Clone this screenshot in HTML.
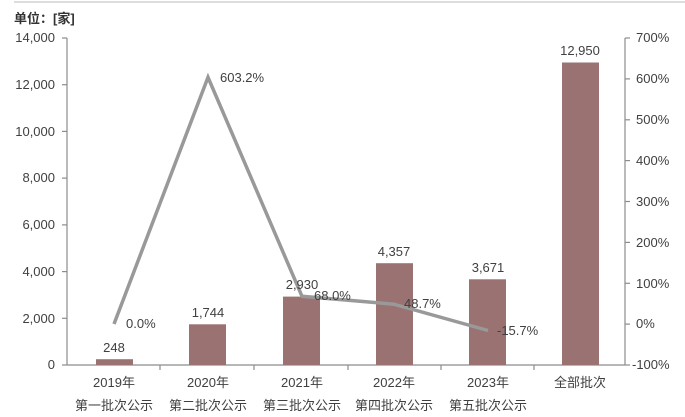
<!DOCTYPE html>
<html><head><meta charset="utf-8"><style>body{margin:0;background:#fff}svg{display:block}text{font-family:"Liberation Sans","Noto Sans CJK SC",sans-serif;fill:#404040;font-size:13px}</style></head><body>
<svg width="685" height="417" viewBox="0 0 685 417">
<line x1="14" y1="2" x2="685" y2="2" stroke="#ddd" stroke-width="2"/>
<text x="14" y="23" font-weight="bold" font-size="13" style="fill:#333">单位：[家]</text>
<g stroke="#8c8c8c" stroke-width="1.2">
<line x1="67" y1="38" x2="67" y2="365"/><line x1="625" y1="38" x2="625" y2="365"/>
<line x1="67" y1="365" x2="625" y2="365"/>
<line x1="62" y1="38" x2="67" y2="38"/><line x1="62" y1="84.7" x2="67" y2="84.7"/><line x1="62" y1="131.4" x2="67" y2="131.4"/><line x1="62" y1="178.1" x2="67" y2="178.1"/><line x1="62" y1="224.9" x2="67" y2="224.9"/><line x1="62" y1="271.6" x2="67" y2="271.6"/><line x1="62" y1="318.3" x2="67" y2="318.3"/><line x1="62" y1="365" x2="67" y2="365"/>
<line x1="625" y1="38" x2="630" y2="38"/><line x1="625" y1="78.9" x2="630" y2="78.9"/><line x1="625" y1="119.8" x2="630" y2="119.8"/><line x1="625" y1="160.6" x2="630" y2="160.6"/><line x1="625" y1="201.5" x2="630" y2="201.5"/><line x1="625" y1="242.4" x2="630" y2="242.4"/><line x1="625" y1="283.3" x2="630" y2="283.3"/><line x1="625" y1="324.1" x2="630" y2="324.1"/><line x1="625" y1="365" x2="630" y2="365"/>
<line x1="160" y1="365" x2="160" y2="370"/><line x1="254" y1="365" x2="254" y2="370"/><line x1="348" y1="365" x2="348" y2="370"/><line x1="441" y1="365" x2="441" y2="370"/><line x1="534" y1="365" x2="534" y2="370"/>
</g>
<g text-anchor="end">
<text x="55" y="42">14,000</text><text x="55" y="89">12,000</text><text x="55" y="136">10,000</text><text x="55" y="182">8,000</text><text x="55" y="229">6,000</text><text x="55" y="276">4,000</text><text x="55" y="323">2,000</text><text x="55" y="369">0</text>
</g>
<g>
<text x="636" y="42">700%</text><text x="636" y="83">600%</text><text x="636" y="124">500%</text><text x="636" y="165">400%</text><text x="636" y="206">300%</text><text x="636" y="247">200%</text><text x="636" y="288">100%</text><text x="636" y="328">0%</text><text x="632" y="369">-100%</text>
</g>
<g fill="#9a7272">
<rect x="96" y="359.2" width="37" height="5.8"/>
<rect x="189" y="324.3" width="37" height="40.7"/>
<rect x="283" y="296.6" width="37" height="68.4"/>
<rect x="376" y="263.2" width="37" height="101.8"/>
<rect x="469" y="279.3" width="37" height="85.7"/>
<rect x="562" y="62.5" width="37" height="302.5"/>
</g>
<polyline points="114,324 208,77.3 302,296.3 394,304.2 488,330.5" fill="none" stroke="#999" stroke-width="3.5" stroke-linejoin="miter"/>
<g text-anchor="middle">
<text x="114" y="352">248</text><text x="208" y="317">1,744</text><text x="302" y="289">2,930</text><text x="394" y="256">4,357</text><text x="488" y="272">3,671</text><text x="580" y="55">12,950</text>
</g>
<text x="126" y="328">0.0%</text><text x="220" y="82">603.2%</text><text x="314" y="300">68.0%</text><text x="404" y="308">48.7%</text><text x="497" y="335">-15.7%</text>
<g text-anchor="middle" font-size="13.5">
<text x="114" y="387">2019年</text><text x="208" y="387">2020年</text><text x="302" y="387">2021年</text><text x="394" y="387">2022年</text><text x="488" y="387">2023年</text><text x="580" y="387">全部批次</text>
<text x="114" y="410">第一批次公示</text><text x="208" y="410">第二批次公示</text><text x="302" y="410">第三批次公示</text><text x="394" y="410">第四批次公示</text><text x="488" y="410">第五批次公示</text>
</g>
</svg></body></html>
